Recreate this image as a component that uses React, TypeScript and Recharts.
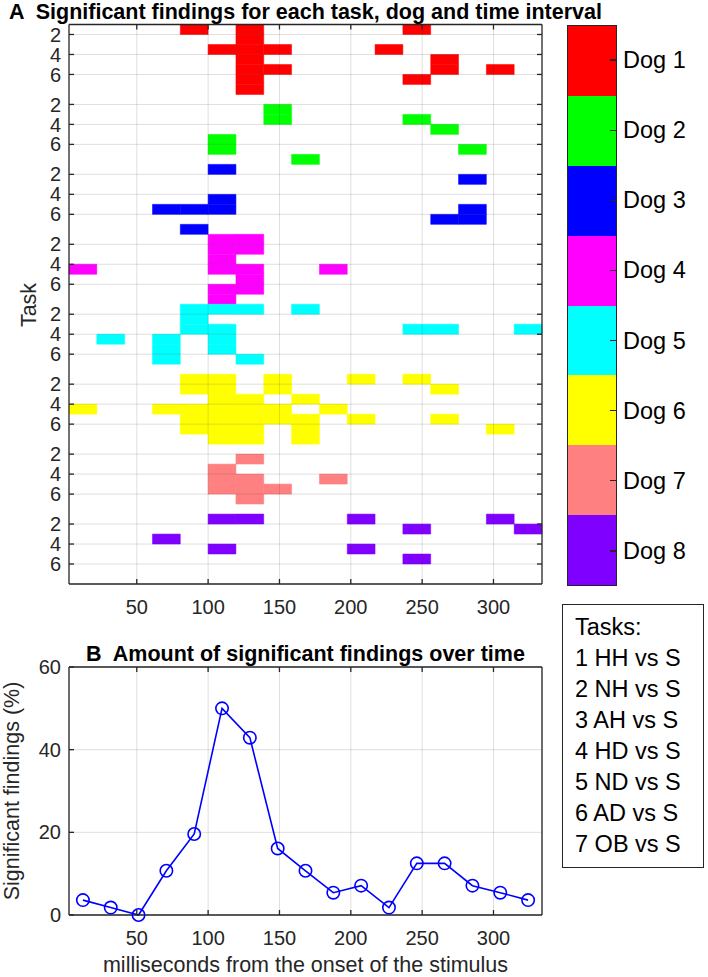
import React from "react";
import {
  CartesianGrid,
  ComposedChart,
  Line,
  LineChart,
  ReferenceArea,
  ReferenceLine,
  XAxis,
  YAxis
} from "recharts";

// time bins in ms, shared by both panels
const binEdges = [2.5, 22, 41.5, 61, 80.5, 100, 119.5, 139, 158.5, 178, 197.5, 217, 236.5, 256, 275.5, 295, 314.5, 334];
const binCenters = [12.25, 31.75, 51.25, 70.75, 90.25, 109.75, 129.25, 148.75, 168.25, 187.75, 207.25, 226.75, 246.25, 265.75, 285.25, 304.75, 324.25];
const timeTicks = [50, 100, 150, 200, 250, 300];

const dogNames = ["Dog 1", "Dog 2", "Dog 3", "Dog 4", "Dog 5", "Dog 6", "Dog 7", "Dog 8"];
const dogColors = ["#ff0000", "#00ff00", "#0000ff", "#ff00ff", "#00ffff", "#ffff00", "#ff8080", "#8000ff"];
const taskNames = ["1 HH vs S", "2 NH vs S", "3 AH vs S", "4 HD vs S", "5 ND vs S", "6 AD vs S", "7 OB vs S"];
const taskTickLabels = [2, 4, 6];

// significant bins (index into the time bins) for tasks 1..7 of each dog
const dog1Hits = [[4, 6, 12], [6], [5, 6, 7, 11], [6, 13], [6, 7, 13, 15], [6, 12], [6]];
const dog2Hits = [[], [7], [7, 12], [13], [5], [5, 14], [8]];
const dog3Hits = [[5], [14], [], [5], [3, 4, 5, 14], [13, 14], [4]];
const dog4Hits = [[5, 6], [5, 6], [5], [0, 5, 6, 9], [6], [5, 6], [5]];
const dog5Hits = [[4, 5, 6, 8], [4], [4, 5, 12, 13, 16], [1, 3, 5], [3, 5], [3, 6], []];
const dog6Hits = [[4, 5, 7, 10, 12], [4, 5, 7, 13], [5, 6, 8], [0, 3, 4, 5, 6, 7, 9], [4, 5, 6, 7, 8, 10, 13], [4, 5, 6, 8, 15], [5, 6, 8]];
const dog7Hits = [[], [6], [5], [5, 6, 9], [5, 6, 7], [6], []];
const dog8Hits = [[5, 6, 10, 15], [12, 16], [3], [5, 10], [12], [], []];
const dogHits = [dog1Hits, dog2Hits, dog3Hits, dog4Hits, dog5Hits, dog6Hits, dog7Hits, dog8Hits];

// panel B: share of significant findings per bin (%)
const findingsPct = [3.6, 1.8, 0, 10.7, 19.6, 50.0, 42.9, 16.1, 10.7, 5.4, 7.1, 1.8, 12.5, 12.5, 7.1, 5.4, 3.6];
const pctTicks = [0, 20, 40, 60];

const FONT = '"Liberation Sans", Arial, Helvetica, sans-serif';
const INK = "#262626";
const tickStyle = { fontSize: 20, fill: INK, fontFamily: FONT };
const lineStyle = { stroke: INK, strokeWidth: 1.3 };
const timeDomain = [binEdges[0], binEdges[binEdges.length - 1]];

const rowsPerDog = taskNames.length;
const rowCount = dogNames.length * rowsPerDog;
const rowTicks = dogNames.flatMap((_, d) => taskTickLabels.map((t) => d * rowsPerDog + t - 1));
const blank = () => "";

const cells = dogHits.flatMap((tasks, d) =>
  tasks.flatMap((bins, t) => bins.map((b) => ({ d, row: d * rowsPerDog + t, b })))
);

const panelB = binCenters.map((t, i) => ({ t, pct: findingsPct[i] }));

function HeatmapPanel() {
  return (
    <ComposedChart
      width={560}
      height={630}
      data={panelB}
      margin={{ top: 23.5, right: 17, bottom: 6, left: 9 }}
    >
      <XAxis
        dataKey="t"
        type="number"
        domain={timeDomain}
        allowDataOverflow
        ticks={timeTicks}
        interval={0}
        height={40}
        tickSize={-5}
        tickMargin={20.5}
        tick={tickStyle}
        axisLine={lineStyle}
        tickLine={lineStyle}
      />
      <XAxis
        xAxisId="top"
        orientation="top"
        dataKey="t"
        type="number"
        domain={timeDomain}
        allowDataOverflow
        ticks={timeTicks}
        interval={0}
        height={1}
        tickSize={-5}
        tickFormatter={blank}
        axisLine={lineStyle}
        tickLine={lineStyle}
      />
      <YAxis
        type="number"
        domain={[0, rowCount]}
        reversed
        allowDataOverflow
        ticks={rowTicks}
        interval={0}
        width={60}
        tickSize={-5}
        tickMargin={13}
        tickFormatter={(v: number) => String((v % rowsPerDog) + 1)}
        tick={tickStyle}
        axisLine={lineStyle}
        tickLine={lineStyle}
      />
      <YAxis
        yAxisId="right"
        orientation="right"
        type="number"
        domain={[0, rowCount]}
        reversed
        allowDataOverflow
        ticks={rowTicks}
        interval={0}
        width={1}
        tickSize={-5}
        tickFormatter={blank}
        axisLine={lineStyle}
        tickLine={lineStyle}
      />
      {cells.map((c, i) => (
        <ReferenceArea
          key={`c${i}`}
          x1={binEdges[c.b]}
          x2={binEdges[c.b + 1]}
          y1={c.row}
          y2={c.row + 1}
          fill={dogColors[c.d]}
          fillOpacity={1}
          stroke={dogColors[c.d]}
          strokeWidth={0.5}
          ifOverflow="visible"
        />
      ))}
      {timeTicks.map((t) => (
        <ReferenceLine key={`gx${t}`} x={t} stroke={INK} strokeOpacity={0.15} strokeWidth={1} />
      ))}
      {rowTicks.map((r) => (
        <ReferenceLine key={`gy${r}`} y={r} stroke={INK} strokeOpacity={0.15} strokeWidth={1} />
      ))}
    </ComposedChart>
  );
}

function FindingsPanel() {
  return (
    <LineChart
      width={560}
      height={337}
      data={panelB}
      margin={{ top: 26, right: 17, bottom: 22, left: 9 }}
    >
      <CartesianGrid stroke={INK} strokeOpacity={0.15} />
      <XAxis
        dataKey="t"
        type="number"
        domain={timeDomain}
        allowDataOverflow
        ticks={timeTicks}
        interval={0}
        height={40}
        tickSize={-5}
        tickMargin={20.5}
        tick={tickStyle}
        axisLine={lineStyle}
        tickLine={lineStyle}
      />
      <XAxis
        xAxisId="top"
        orientation="top"
        dataKey="t"
        type="number"
        domain={timeDomain}
        allowDataOverflow
        ticks={timeTicks}
        interval={0}
        height={1}
        tickSize={-5}
        tickFormatter={blank}
        axisLine={lineStyle}
        tickLine={lineStyle}
      />
      <YAxis
        type="number"
        domain={[0, 60]}
        ticks={pctTicks}
        interval={0}
        width={60}
        tickSize={-5}
        tickMargin={13}
        tick={tickStyle}
        axisLine={lineStyle}
        tickLine={lineStyle}
      />
      <YAxis
        yAxisId="right"
        orientation="right"
        type="number"
        domain={[0, 60]}
        ticks={pctTicks}
        interval={0}
        width={1}
        tickSize={-5}
        tickFormatter={blank}
        axisLine={lineStyle}
        tickLine={lineStyle}
      />
      <Line
        dataKey="pct"
        type="linear"
        stroke="#0000ff"
        strokeWidth={1.6}
        dot={{ r: 6.2, stroke: "#0000ff", strokeWidth: 1.6, fill: "none" }}
        activeDot={false}
        isAnimationActive={false}
      />
    </LineChart>
  );
}

const abs = (left: number, top: number): React.CSSProperties => ({ position: "absolute", left, top });

export default function App() {
  const segH = 561 / dogNames.length;
  return (
    <div
      style={{
        position: "absolute",
        left: 0,
        top: 0,
        width: 708,
        height: 977,
        background: "#fff",
        fontFamily: FONT,
        color: "#000",
        overflow: "hidden"
      }}
    >
      <div
        style={{
          ...abs(0, 1.5),
          width: 611,
          textAlign: "center",
          fontSize: 21.5,
          lineHeight: "21.5px",
          fontWeight: "bold",
          whiteSpace: "pre"
        }}
      >
        {"A  Significant findings for each task, dog and time interval"}
      </div>
      <div style={abs(0, 0)}>
        <HeatmapPanel />
      </div>
      <div
        style={{
          ...abs(29.5, 304.5),
          transform: "translate(-50%, -50%) rotate(-90deg)",
          fontSize: 21.5,
          lineHeight: "21.5px",
          color: INK,
          whiteSpace: "nowrap"
        }}
      >
        Task
      </div>

      {/* colour bar */}
      <div
        style={{
          ...abs(567, 25),
          width: 50,
          height: 561,
          border: `1.3px solid ${INK}`,
          boxSizing: "border-box",
          display: "flex",
          flexDirection: "column"
        }}
      >
        {dogColors.map((c) => (
          <div key={c} style={{ flex: 1, background: c }} />
        ))}
      </div>
      {dogNames.map((name, i) => (
        <React.Fragment key={name}>
          <div
            style={{
              ...abs(610, 25 + segH * (i + 0.5) - 0.65),
              width: 6,
              height: 1.3,
              background: INK
            }}
          />
          <div
            style={{
              ...abs(623, 25 + segH * (i + 0.5)),
              transform: "translateY(-50%)",
              fontSize: 23.5,
              lineHeight: "24px",
              whiteSpace: "nowrap"
            }}
          >
            {name}
          </div>
        </React.Fragment>
      ))}

      <div
        style={{
          ...abs(0, 643.8),
          width: 611,
          textAlign: "center",
          fontSize: 21.5,
          lineHeight: "21.5px",
          fontWeight: "bold",
          whiteSpace: "pre"
        }}
      >
        {"B  Amount of significant findings over time"}
      </div>
      <div style={abs(0, 640)}>
        <FindingsPanel />
      </div>
      <div
        style={{
          ...abs(13, 791),
          transform: "translate(-50%, -50%) rotate(-90deg)",
          fontSize: 21.5,
          lineHeight: "21.5px",
          color: INK,
          whiteSpace: "nowrap"
        }}
      >
        Significant findings (%)
      </div>
      <div
        style={{
          ...abs(0, 955.3),
          width: 611,
          textAlign: "center",
          fontSize: 21.5,
          lineHeight: "21.5px",
          color: INK,
          whiteSpace: "nowrap"
        }}
      >
        milliseconds from the onset of the stimulus
      </div>

      {/* task legend */}
      <div
        style={{
          ...abs(562, 604),
          width: 142,
          height: 264,
          border: `1.3px solid ${INK}`,
          boxSizing: "border-box"
        }}
      />
      <div style={{ ...abs(575, 612.3), fontSize: 23.5, lineHeight: "31px", whiteSpace: "nowrap" }}>
        <div>Tasks:</div>
        {taskNames.map((t) => (
          <div key={t}>{t}</div>
        ))}
      </div>
    </div>
  );
}
